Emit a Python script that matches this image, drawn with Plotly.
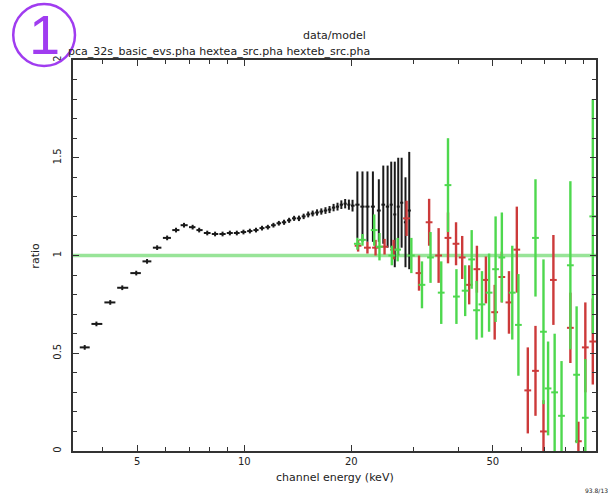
import numpy as np
import plotly.graph_objects as go

# PCA (black): channel energy (keV), data/model ratio, 1-sigma error
pca_energy = [3.56, 3.84, 4.20, 4.54, 4.97, 5.33, 5.69, 6.07, 6.43, 6.77, 7.16, 7.47,
              7.87, 8.28, 8.69, 9.11, 9.53, 9.95, 10.37, 10.79, 11.22, 11.65, 12.08,
              12.51, 12.94, 13.37, 13.81, 14.25, 14.69, 15.13, 15.57, 16.02, 16.47,
              16.92, 17.37, 17.83, 18.29, 18.75, 19.22, 19.69, 20.16,
              20.8, 21.5, 22.2, 23.0, 23.9, 24.6, 25.3, 25.9, 26.5, 27.1, 27.7, 28.4, 29.1]
pca_ratio = [0.53, 0.65, 0.76, 0.835, 0.91, 0.97, 1.04, 1.09, 1.13, 1.155, 1.145, 1.13,
             1.115, 1.11, 1.11, 1.115, 1.115, 1.12, 1.125, 1.13, 1.14, 1.145, 1.155,
             1.165, 1.17, 1.18, 1.19, 1.19, 1.20, 1.21, 1.215, 1.22, 1.225,
             1.23, 1.235, 1.245, 1.25, 1.26, 1.265, 1.26, 1.255,
             1.26, 1.25, 1.25, 1.25, 1.23, 1.26, 1.25, 1.26, 1.21, 1.25, 1.27, 1.17, 1.23]
pca_err = [0.012, 0.012, 0.012, 0.012, 0.012, 0.012, 0.012, 0.012, 0.012, 0.012, 0.012, 0.012,
           0.012, 0.012, 0.012, 0.012, 0.012, 0.012, 0.012, 0.012, 0.012, 0.012, 0.012,
           0.012, 0.013, 0.013, 0.013, 0.014, 0.014, 0.015, 0.015, 0.016, 0.016,
           0.017, 0.018, 0.019, 0.02, 0.022, 0.024, 0.026, 0.03,
           0.17, 0.18, 0.18, 0.18, 0.16, 0.20, 0.21, 0.22, 0.27, 0.25, 0.23, 0.23, 0.30]

# HEXTE cluster A (red)
hexa_energy = [20.9, 22.2, 23.4, 24.8, 26.3, 28.6, 31.0, 33.1, 35.2, 37.4, 39.4, 41.0,
               42.9, 45.1, 47.8, 50.6, 53.0, 55.5, 58.4, 62.7, 65.9, 69.4, 74.0, 82.6,
               87.0, 91.0, 95.5]
hexa_ratio = [1.05, 1.04, 1.04, 1.045, 1.03, 1.19, 0.91, 1.17, 1.00, 1.09, 1.06, 0.99,
              0.85, 0.93, 0.875, 0.71, 0.89, 0.76, 1.03, 0.31, 0.41, 0.10, 0.875, 0.63,
              0.05, 0.53, 0.56]
hexa_err = [0.03, 0.03, 0.04, 0.04, 0.05, 0.09, 0.09, 0.12, 0.14, 0.13, 0.11, 0.11,
            0.10, 0.12, 0.12, 0.14, 0.13, 0.16, 0.22, 0.22, 0.23, 0.16, 0.23, 0.18,
            0.10, 0.23, 0.22]

# HEXTE cluster B (green)
hexb_energy = [20.8, 21.5, 23.2, 24.0, 26.0, 27.0, 29.5, 31.6, 33.4, 35.8, 37.4, 39.5,
               41.8, 43.6, 45.0, 46.6, 48.8, 50.9, 53.0, 56.7, 59.0, 65.9, 69.4, 71.5,
               74.6, 78.0, 82.6, 86.0, 91.0, 95.5]
hexb_ratio = [1.06, 1.08, 1.13, 1.045, 1.00, 1.03, 1.00, 0.85, 0.99, 0.81, 1.36, 0.79,
              0.82, 0.98, 0.72, 0.75, 0.81, 0.93, 0.99, 0.81, 0.645, 1.09, 0.61, 0.32,
              0.30, 0.18, 0.95, 0.39, 0.17, 1.20]
hexb_err = [0.03, 0.03, 0.08, 0.07, 0.05, 0.06, 0.09, 0.12, 0.13, 0.16, 0.24, 0.14,
            0.13, 0.15, 0.15, 0.17, 0.20, 0.27, 0.23, 0.24, 0.26, 0.30, 0.37, 0.24,
            0.30, 0.28, 0.43, 0.35, 0.30, 0.60]

x_ticks = [5, 10, 20, 50]
x_minor = [4, 6, 7, 8, 9, 30, 40, 60, 70, 80, 90]
y_ticks = [0, 0.5, 1, 1.5, 2]
y_ticktext = ["0", "0.5", "1", "1.5", "2"]


def contiguous_halfwidth(e):
    """Half-widths of contiguous channels whose edges sit midway (in log) between centres."""
    e = np.asarray(e, dtype=float)
    edges = np.sqrt(e[1:] * e[:-1])
    lo = np.concatenate([[e[0] ** 2 / edges[0]], edges])
    hi = np.concatenate([edges, [e[-1] ** 2 / edges[-1]]])
    return e - lo, hi - e


BLACK = "#1a1a1a"
RED = "#cc3a3a"
GREEN = "#4ed84e"

fig = go.Figure()

# unity reference line
fig.add_hline(y=1, line=dict(color="#98e498", width=3.5), layer="below")

pca_lo, pca_hi = contiguous_halfwidth(pca_energy)
pca_lo = np.minimum(pca_lo * 0.85, 0.3)
pca_hi = np.minimum(pca_hi * 0.85, 0.3)

fig.add_trace(go.Scatter(
    x=pca_energy, y=pca_ratio, mode="markers",
    marker=dict(size=1, color=BLACK),
    error_x=dict(type="data", array=pca_hi, arrayminus=pca_lo, width=0, thickness=2, color=BLACK),
    error_y=dict(type="data", array=pca_err, width=0, thickness=2, color=BLACK),
    showlegend=False, hoverinfo="skip"))

for e, r, s, col, frac in [(hexa_energy, hexa_ratio, hexa_err, RED, 0.022),
                           (hexb_energy, hexb_ratio, hexb_err, GREEN, 0.022)]:
    e = np.asarray(e)
    fig.add_trace(go.Scatter(
        x=e, y=r, mode="markers",
        marker=dict(size=1, color=col),
        error_x=dict(type="data", array=e * frac, arrayminus=e * frac, width=0, thickness=2, color=col),
        error_y=dict(type="data", array=s, width=0, thickness=2.4, color=col),
        showlegend=False, hoverinfo="skip"))

axis_font = dict(family="DejaVu Sans", size=10, color="#222")

fig.update_xaxes(
    type="log", range=[np.log10(3.3), np.log10(97.5)],
    tickvals=x_ticks, ticktext=[str(v) for v in x_ticks],
    ticks="inside", ticklen=6, tickwidth=1.3, tickcolor="#333",
    minor=dict(tickvals=x_minor, ticks="inside", ticklen=4, tickwidth=1.2, tickcolor="#333"),
    showline=True, linewidth=2, linecolor="#333", mirror="ticks",
    showgrid=False, zeroline=False, tickfont=axis_font)

fig.update_yaxes(
    range=[0, 2], tickvals=y_ticks, ticktext=y_ticktext, tickangle=-90,
    ticks="inside", ticklen=6, tickwidth=1.3, tickcolor="#333",
    minor=dict(dtick=0.1, ticks="inside", ticklen=4, tickwidth=1.2, tickcolor="#333"),
    showline=True, linewidth=2, linecolor="#333", mirror="ticks",
    showgrid=False, zeroline=False, tickfont=axis_font, ticklabelstandoff=6)

txt = dict(family="DejaVu Sans", color="#222")
annotations = [
    dict(text="data/model", x=0.5, y=1.0614, xref="paper", yref="paper",
         showarrow=False, xanchor="center", yanchor="middle", font=dict(size=11, **txt)),
    dict(text="pca_32s_basic_evs.pha hextea_src.pha hexteb_src.pha", x=-0.013, y=1.0205,
         xref="paper", yref="paper", showarrow=False, xanchor="left", yanchor="middle",
         font=dict(size=11, **txt)),
    dict(text="channel energy (keV)", x=0.5, y=-0.069, xref="paper", yref="paper",
         showarrow=False, xanchor="center", yanchor="middle", font=dict(size=11, **txt)),
    dict(text="ratio", x=-0.0724, y=0.5, xref="paper", yref="paper", textangle=-90,
         showarrow=False, xanchor="center", yanchor="middle", font=dict(size=11, **txt)),
    dict(text="93.8/13", x=1.0, y=-0.1, xref="paper", yref="paper",
         showarrow=False, xanchor="center", yanchor="middle", font=dict(size=6, **txt)),
    dict(text="1", x=-0.0552, y=1.064, xref="paper", yref="paper",
         showarrow=False, xanchor="center", yanchor="middle",
         font=dict(family="Liberation Sans", size=56, color="#a03cf0")),
]

fig.add_shape(type="circle", xref="paper", yref="paper",
              x0=-0.1143, x1=0.0038, y0=0.9847, y1=1.1432,
              line=dict(color="#a03cf0", width=2.5))

fig.update_layout(
    width=608, height=501,
    margin=dict(l=73, r=10, t=60, b=50),
    paper_bgcolor="white", plot_bgcolor="white",
    annotations=annotations, showlegend=False)

fig.write_html("out.html")
